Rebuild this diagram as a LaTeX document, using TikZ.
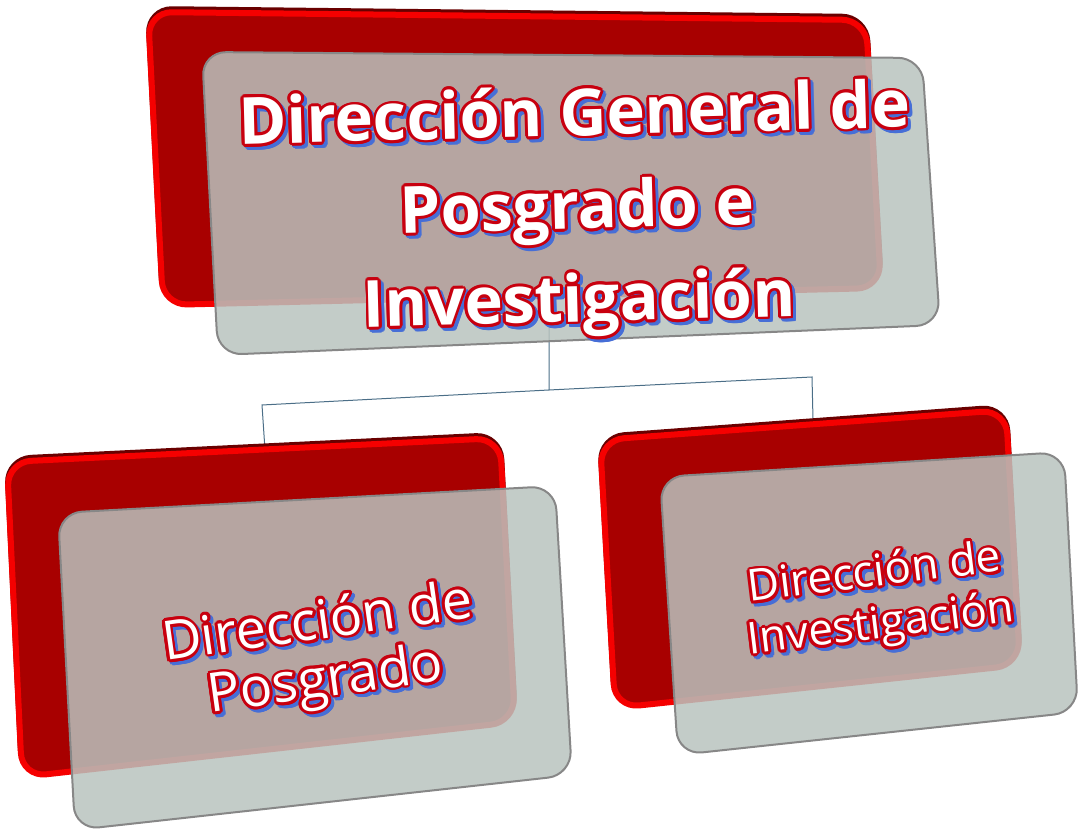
\documentclass[tikz,border=0pt]{standalone}
\usepackage{fontspec}
\setmainfont{Open Sans}
\usepackage[copies]{contour}
\contourlength{1.4pt}
\definecolor{rimred}{RGB}{245,0,0}
\definecolor{deepred}{RGB}{168,0,0}
\definecolor{darkrim}{RGB}{105,0,0}
\definecolor{glass}{RGB}{185,195,190}
\definecolor{glassedge}{RGB}{135,135,135}
\definecolor{linkblue}{RGB}{75,110,135}
\definecolor{outlinered}{RGB}{200,0,15}
\definecolor{shadowblue}{RGB}{70,110,215}
\newcommand{\orgline}[1]{\contour{outlinered}{#1}}
\newcommand{\orgshade}[1]{\contour{shadowblue}{#1}}
\tikzset{
  redshade/.style={draw=darkrim, line width=3pt, rounded corners=12pt},
  redback/.style={fill=deepred, draw=rimred, line width=3pt, rounded corners=12pt},
  glassfront/.style={fill=glass, fill opacity=0.85, draw=glassedge, line width=1pt, rounded corners=12pt},
  link/.style={draw=linkblue, line width=0.5pt},
  titletext/.style={font=\bfseries\fontsize{32.5}{46.5}\selectfont, align=center, inner sep=0pt},
  childtext/.style={font=\fontsize{27}{29}\selectfont, align=center, inner sep=0pt},
  smalltext/.style={font=\fontsize{22}{26}\selectfont, align=center, inner sep=0pt}
}
\begin{document}
\begin{tikzpicture}[x=0.5pt,y=-0.5pt]
  \useasboundingbox (0,0) rectangle (1086,838);
  \coordinate (gen-s) at (549,300);
  \coordinate (gen-j) at (549,390);
  \coordinate (pos-j) at (262,405);
  \coordinate (pos-n) at (265,450);
  \coordinate (inv-j) at (812,377);
  \coordinate (inv-n) at (813,420);
  \draw[link] (gen-s) -- (gen-j) -- (pos-j) -- (pos-n);
  \draw[link] (gen-j) -- (inv-j) -- (inv-n);

  \draw[redshade,yshift=1.5pt] (148,12) -- (866,20) -- (881,288) -- (163,305) -- cycle;
  \draw[redback] (148,12) -- (866,20) -- (881,288) -- (163,305) -- cycle;
  \draw[glassfront] (202,52) -- (922,58) -- (940,325) -- (218,355) -- cycle;
  \node[titletext,text=shadowblue,rotate=1.5] (gen-shadow) at (580,216)
    {\orgshade{Dirección General de}\\\orgshade{Posgrado e}\\\orgshade{Investigación}};
  \node[titletext,text=white,rotate=1.5] (gen) at (577,213)
    {\orgline{Dirección General de}\\\orgline{Posgrado e}\\\orgline{Investigación}};

  \draw[redshade,yshift=1.5pt] (7,462) -- (500,438) -- (515,722) -- (22,777) -- cycle;
  \draw[redback] (7,462) -- (500,438) -- (515,722) -- (22,777) -- cycle;
  \draw[glassfront] (58,513) -- (555,486) -- (572,775) -- (75,830) -- cycle;
  \node[childtext,text=shadowblue,rotate=8] (pos-shadow) at (325,658)
    {\orgshade{Dirección de}\\\orgshade{Posgrado}};
  \node[childtext,text=white,rotate=8] (pos) at (322,655)
    {\orgline{Dirección de}\\\orgline{Posgrado}};

  \draw[redshade,yshift=1.5pt] (600,440) -- (1006,410) -- (1020,665) -- (615,708) -- cycle;
  \draw[redback] (600,440) -- (1006,410) -- (1020,665) -- (615,708) -- cycle;
  \draw[glassfront] (660,477) -- (1064,452) -- (1078,712) -- (678,755) -- cycle;
  \node[smalltext,text=shadowblue,rotate=7] (inv-shadow) at (881,605)
    {\orgshade{Dirección de}\\\orgshade{Investigación}};
  \node[smalltext,text=white,rotate=7] (inv) at (878,602)
    {\orgline{Dirección de}\\\orgline{Investigación}};
\end{tikzpicture}
\end{document}
